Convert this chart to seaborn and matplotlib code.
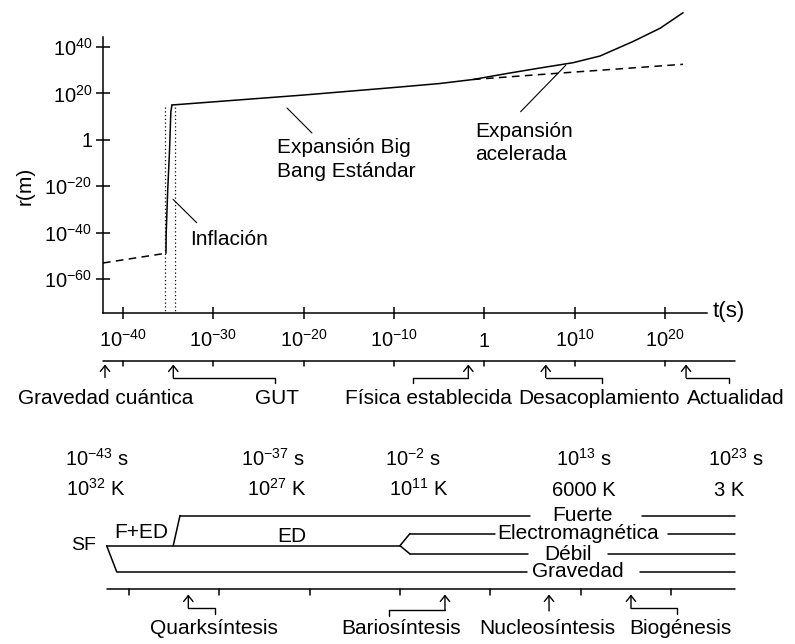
import numpy as np
import pandas as pd
import matplotlib
matplotlib.use("Agg")
import matplotlib.pyplot as plt
import seaborn as sns

# ------------------------------------------------------------------ data
# main curve  (log10 t [s], log10 r [m])
pre_logt = [-42.21, -35.24]                      # pre-inflation (dashed)
pre_logr = [-53.1, -48.9]
infl_logt = [-35.24, -35.22, -35.05, -34.85, -34.70, -34.58]   # inflation
infl_logr = [-48.9, -41.0, -22.0, -5.0, 12.0, 15.0]
std_logt = [-34.58, -19.96, -9.33, -4.91, -1.25, 2.51, 6.16, 9.82,
            12.81, 16.46, 19.45, 22.0]           # standard + accelerated
std_logr = [15.0, 19.31, 22.76, 24.27, 25.99, 28.58, 30.95, 33.23,
            36.12, 42.37, 48.06, 54.78]
dec_logt = [-1.25, 8.05, 22.0]                   # decelerated continuation
dec_logr = [25.99, 28.66, 32.54]
infl_window = [-35.35, -34.24]                   # dotted lines
infl_window_top = 14.1

xtick_exp = [-40, -30, -20, -10, 0, 10, 20]
xtick_lbl = [r"$10^{-40}$", r"$10^{-30}$", r"$10^{-20}$", r"$10^{-10}$", "1",
             r"$10^{10}$", r"$10^{20}$"]
ytick_exp = [40, 20, 0, -20, -40, -60]
ytick_lbl = [r"$10^{40}$", r"$10^{20}$", "1", r"$10^{-20}$", r"$10^{-40}$", r"$10^{-60}$"]

# upper timeline events
ev_names = ["Gravedad cuántica", "GUT", "Física establecida", "Desacoplamiento", "Actualidad"]
ev_arrow = [-41.99, -34.43, -1.77, 6.80, 22.33]
ev_bracket = [None, -23.17, -7.86, 13.0, 27.12]
ev_label = [-41.94, -22.95, -6.23, 12.72, 27.84]

# time / temperature rows
row_time = [r"$10^{-43}$ s", r"$10^{-37}$ s", r"$10^{-2}$ s", r"$10^{13}$ s", r"$10^{23}$ s"]
row_temp = [r"$10^{32}$ K", r"$10^{27}$ K", r"$10^{11}$ K", "6000 K", "3 K"]

# forces diagram
force_names = ["Fuerte", "Electromagnética", "Débil", "Gravedad"]
force_start = [-34.35, -8.89, -8.89, -41.36]
force_gap_a = [4.39, 0.52, 4.17, 4.06]
force_gap_b = [16.79, 19.67, 13.03, 16.57]
force_end = [27.09, 27.09, 27.09, 27.09]
force_label = [10.20, 9.74, 8.60, 9.65]
sf_start = -42.47
ew_fork = -10.0
fed_split = [-35.10, -34.35]
grav_split = -41.36
tl2_range = [-42.44, 27.09]

# lower timeline events
ev2_names = ["Quarksíntesis", "Bariosíntesis", "Nucleosíntesis", "Biogénesis"]
ev2_arrow = [-33.43, -5.02, 6.5, 15.57]
ev2_bracket = [-30.48, -11.18, None, 20.70]
ev2_label = [-30.57, -9.89, 6.33, 21.05]

# ------------------------------------------------------------------ style
sns.set_theme(style="white")
plt.rcParams["font.family"] = ["Liberation Sans", "DejaVu Sans"]
plt.rcParams["mathtext.fontset"] = "custom"
plt.rcParams["mathtext.rm"] = "Liberation Sans"
plt.rcParams["mathtext.it"] = "Liberation Sans:italic"
plt.rcParams["mathtext.bf"] = "Liberation Sans:bold"
plt.rcParams["mathtext.default"] = "regular"

W, H = 795, 644
fig = plt.figure(figsize=(W / 100, H / 100), dpi=100)
fig.patch.set_facecolor("white")


def rect(l, t, r, b):
    return [l / W, 1 - b / H, (r - l) / W, (b - t) / H]


K = "black"
LW = 1.1
FS = 15

P = lambda v: np.power(10.0, np.asarray(v, dtype=float))

# ------------------------------------------------------------------ main plot
ax = fig.add_axes(rect(103, 37, 707, 312.7))
ax.set_xscale("log")
ax.set_yscale("log")
ax.set_xlim(P(-42.21), P(24.65))
ax.set_ylim(P(-74.53), P(44.31))
ax.set_facecolor("white")

df_std = pd.DataFrame({"t": P(std_logt), "r": P(std_logr)})
df_inf = pd.DataFrame({"t": P(infl_logt), "r": P(infl_logr)})
df_pre = pd.DataFrame({"t": P(pre_logt), "r": P(pre_logr)})
df_dec = pd.DataFrame({"t": P(dec_logt), "r": P(dec_logr)})

sns.lineplot(data=df_std, x="t", y="r", ax=ax, color=K, lw=LW, estimator=None,
             sort=False, clip_on=False)
sns.lineplot(data=df_inf, x="t", y="r", ax=ax, color=K, lw=LW, estimator=None, sort=False)
sns.lineplot(data=df_pre, x="t", y="r", ax=ax, color=K, lw=LW, estimator=None,
             sort=False, linestyle=(0, (5, 3.5)))
sns.lineplot(data=df_dec, x="t", y="r", ax=ax, color=K, lw=LW, estimator=None,
             sort=False, linestyle=(0, (5, 3.5)), clip_on=False)
for xv in infl_window:
    ax.plot([P(xv), P(xv)], [P(infl_window_top), P(-74.53)], color=K, lw=0.9,
            linestyle=(0, (1, 2)))

ax.set_xlabel("")
ax.set_ylabel("")
ax.set_xticks(P(xtick_exp))
ax.set_xticklabels(xtick_lbl)
ax.set_yticks(P(ytick_exp))
ax.set_yticklabels(ytick_lbl)
ax.minorticks_off()
ax.tick_params(axis="both", which="major", bottom=True, left=True, top=False, right=False,
               direction="inout", color=K, width=LW, labelsize=14.5, labelcolor=K)
ax.tick_params(axis="y", length=9.5, pad=3)
ax.tick_params(axis="x", length=8, pad=20.5)
for lbl in ax.get_xticklabels():
    lbl.set_verticalalignment("baseline")
for s in ["top", "right"]:
    ax.spines[s].set_visible(False)
for s in ["left", "bottom"]:
    ax.spines[s].set_color(K)
    ax.spines[s].set_linewidth(LW)

ax.text(1 + 6 / 604, 0.005, "t(s)", transform=ax.transAxes, fontsize=16,
        ha="left", va="center", color=K)
ax.text(-78 / 604, 0.4596, "r(m)", transform=ax.transAxes, fontsize=15,
        rotation=90, ha="center", va="center", color=K)

# annotations
ax.text(P(-22.95), P(-5.69), "Expansión Big", fontsize=FS, ha="left", va="baseline", color=K)
ax.text(P(-22.95), P(-16.03), "Bang Estándar", fontsize=FS, ha="left", va="baseline", color=K)
ax.plot(P([-21.84, -19.08]), P([13.71, 2.93]), color=K, lw=0.8)

ax.text(P(-1.03), P(1.21), "Expansión", fontsize=FS, ha="left", va="baseline", color=K)
ax.text(P(-1.03), P(-8.71), "acelerada", fontsize=FS, ha="left", va="baseline", color=K)
ax.plot(P([9.01, 4.02]), P([32.11, 12.11]), color=K, lw=0.8)

ax.text(P(-32.58), P(-45.34), "Inflación", fontsize=FS, ha="left", va="baseline", color=K)
ax.plot(P([-34.46, -31.84]), P([-25.65, -35.73]), color=K, lw=0.8)

# ------------------------------------------------------------------ upper timeline
ax_tl = fig.add_axes(rect(103, 340, 707, 500), sharex=ax)
ax_tl.set_ylim(500, 340)
ax_tl.axis("off")

Y_TL = 361
ax_tl.plot(P([-42.21, 27.75]), [Y_TL, Y_TL], color=K, lw=LW, clip_on=False)
for e in xtick_exp:
    ax_tl.plot([P(e), P(e)], [Y_TL, Y_TL + 5], color=K, lw=LW, clip_on=False)

arrow_style = "->,head_length=0.35,head_width=0.28"
for name, a, b, lab in zip(ev_names, ev_arrow, ev_bracket, ev_label):
    ax_tl.annotate("", xy=(P(a), 364.5), xytext=(P(a), 377.5),
                   arrowprops=dict(arrowstyle=arrow_style, lw=1.0, color=K,
                                   shrinkA=0, shrinkB=0), annotation_clip=False)
    if b is not None:
        ax_tl.plot([P(a), P(b), P(b)], [377.5, 377.5, 382.5], color=K, lw=1.0,
                   clip_on=False)
    ax_tl.text(P(lab), 399, name, fontsize=FS, ha="center", va="center", color=K)

# time / temperature rows
time_x = [96.7, 272.7, 413, 584, 735.8]
temp_x = [96, 277, 419, 584, 729]
for s, xp in zip(row_time, time_x):
    fig.text(xp / W, 1 - 466 / H, s, fontsize=14.5, ha="center", va="baseline", color=K)
for s, xp in zip(row_temp, temp_x):
    fig.text(xp / W, 1 - 496 / H, s, fontsize=14.5, ha="center", va="baseline", color=K)

# ------------------------------------------------------------------ forces
ax_f = fig.add_axes(rect(109, 500, 713, 644), sharex=ax)
ax_f.set_ylim(644, 500)
ax_f.axis("off")

Y_F, Y_EM, Y_SF, Y_D, Y_G, Y_T2 = 515.5, 533.5, 545.7, 554, 571.7, 589.3
force_y = [Y_F, Y_EM, Y_D, Y_G]


def fl(xs, ys):
    ax_f.plot(P(xs), ys, color=K, lw=LW, clip_on=False, solid_joinstyle="miter")


# unified line from SF to electroweak fork
fl([sf_start, ew_fork], [Y_SF, Y_SF])
# gravity split
fl([sf_start, grav_split], [Y_SF, Y_G])
# strong split
fl(fed_split, [Y_SF, Y_F])
# electroweak fork
fl([ew_fork, force_start[1]], [Y_SF, Y_EM])
fl([ew_fork, force_start[2]], [Y_SF, Y_D])

for name, y, s0, ga, gb, e, lab in zip(force_names, force_y, force_start,
                                        force_gap_a, force_gap_b, force_end, force_label):
    fl([s0, ga], [y, y])
    fl([gb, e], [y, y])
    ax_f.text(P(lab), y, name, fontsize=FS, ha="center", va="center", color=K)

ax_f.text(P(-43.65), 546, "SF", fontsize=14, ha="right", va="center", color=K)
ax_f.text(P(-38.62), 532, "F+ED", fontsize=FS, ha="center", va="center", color=K)
ax_f.text(P(-22.01), 537, "ED", fontsize=FS, ha="center", va="center", color=K)

# lower timeline
fl(tl2_range, [Y_T2, Y_T2])
for e in xtick_exp:
    fl([e, e], [Y_T2, Y_T2 + 6])

bracket_y = [608, 610, None, 608.3]
for name, a, b, by, lab in zip(ev2_names, ev2_arrow, ev2_bracket, bracket_y, ev2_label):
    bottom = by if by is not None else 611
    ax_f.annotate("", xy=(P(a), 594.5), xytext=(P(a), bottom),
                  arrowprops=dict(arrowstyle=arrow_style, lw=1.0, color=K,
                                  shrinkA=0, shrinkB=0), annotation_clip=False)
    if b is not None:
        ax_f.plot([P(a), P(b), P(b)], [by, by, by + 6], color=K, lw=1.0, clip_on=False)
    ax_f.text(P(lab), 629, name, fontsize=FS, ha="center", va="center", color=K)

fig.savefig("out.png", dpi=100, facecolor="white")
